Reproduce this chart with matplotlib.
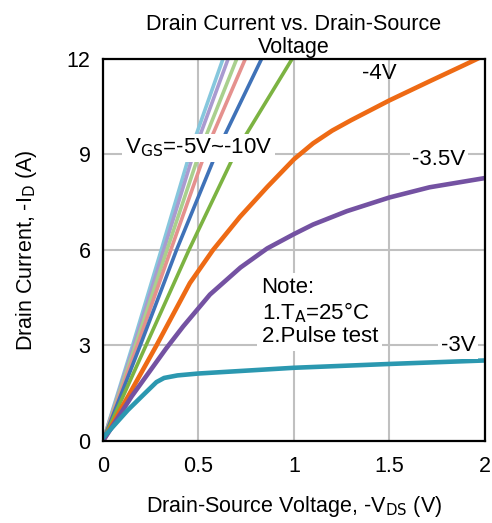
import matplotlib as mpl
mpl.use('Agg')
import matplotlib.pyplot as plt

plt.rcParams['font.family'] = ['Liberation Sans', 'DejaVu Sans']

# steep curves, VGS = -10V ... -5V
steep_colors = ["#86c7dd", "#a99bd0", "#a9d08e", "#e5918e", "#3f72b8", "#7cb342"]
steep_id = [0, 3, 6, 9.14, 12]
steep_vds = [
    [0, 0.155, 0.305, 0.460, 0.628],
    [0, 0.162, 0.318, 0.480, 0.655],
    [0, 0.170, 0.335, 0.510, 0.70],
    [0, 0.180, 0.355, 0.540, 0.745],
    [0, 0.195, 0.385, 0.600, 0.83],
    [0, 0.225, 0.450, 0.700, 0.99],
]

# VGS = -4V
vds_4 = [0, 0.15, 0.28, 0.455, 0.576, 0.717, 0.86, 1.0, 1.1, 1.2, 1.3, 1.5, 1.71, 1.895, 2.0]
id_4 = [0, 1.6, 3.0, 4.96, 6.0, 7.04, 7.98, 8.85, 9.35, 9.75, 10.08, 10.7, 11.3, 11.82, 12.12]

# VGS = -3.5V
vds_35 = [0, 0.15, 0.33, 0.42, 0.56, 0.72, 0.86, 1.0, 1.10, 1.277, 1.5, 1.71, 2.0]
id_35 = [0, 1.4, 2.9, 3.6, 4.6, 5.45, 6.05, 6.5, 6.8, 7.22, 7.65, 7.97, 8.26]

# VGS = -3V
vds_3 = [0, 0.13, 0.22, 0.28, 0.32, 0.39, 0.5, 1.0, 1.5, 2.0]
id_3 = [0.1, 0.97, 1.5, 1.85, 1.98, 2.06, 2.12, 2.3, 2.42, 2.53]

fig = plt.figure(figsize=(4.92, 5.23), dpi=100)
ax = fig.add_axes([0.2093, 0.1568, 0.7764, 0.7304])

ax.grid(True, color="#c0c0c0", linewidth=1.5)
ax.set_axisbelow(True)

for c, x in zip(steep_colors, steep_vds):
    ax.plot(x, steep_id, color=c, linewidth=2.6, solid_joinstyle="round")
ax.plot(vds_4, id_4, color="#ee6a14", linewidth=3.3, solid_joinstyle="round")
ax.plot(vds_35, id_35, color="#7452a2", linewidth=3.3, solid_joinstyle="round")
ax.plot(vds_3, id_3, color="#2b98b0", linewidth=3.3, solid_joinstyle="round")

ax.set_xlim(0, 2)
ax.set_ylim(0, 12)
ax.set_xticks([0, 0.5, 1, 1.5, 2])
ax.set_xticklabels(["0", "0.5", "1", "1.5", "2"])
ax.set_yticks([0, 3, 6, 9, 12])
ax.tick_params(length=0, labelsize=15.5)
ax.tick_params(axis='x', pad=11)
ax.tick_params(axis='y', pad=9)
for s in ax.spines.values():
    s.set_linewidth(1.6)

ax.set_title("Drain Current vs. Drain-Source\nVoltage", fontsize=15.5, pad=4, linespacing=1.15)
ax.set_xlabel("Drain-Source Voltage, -V$_{\\mathrm{DS}}$ (V)", fontsize=15.5, labelpad=12)
ax.set_ylabel("Drain Current, -I$_\\mathrm{D}$ (A)", fontsize=15.5, labelpad=20)

wb = dict(facecolor="white", edgecolor="none", pad=2)
ax.text(0.115, 9.2, "V$_{\\mathrm{GS}}$=-5V~-10V", fontsize=16, va="center", bbox=wb)
ax.text(1.356, 11.56, "-4V", fontsize=16, va="center")
ax.text(1.62, 8.83, "-3.5V", fontsize=16, va="center", bbox=wb)
ax.text(1.77, 3.0, "-3V", fontsize=16, va="center", bbox=wb)
ax.text(0.83, 4.05, "Note:\n1.T$_\\mathrm{A}$=25°C\n2.Pulse test", fontsize=16, va="center",
        linespacing=1.1, bbox=dict(facecolor="white", edgecolor="none", pad=3))

fig.savefig("out.png", dpi=100)
